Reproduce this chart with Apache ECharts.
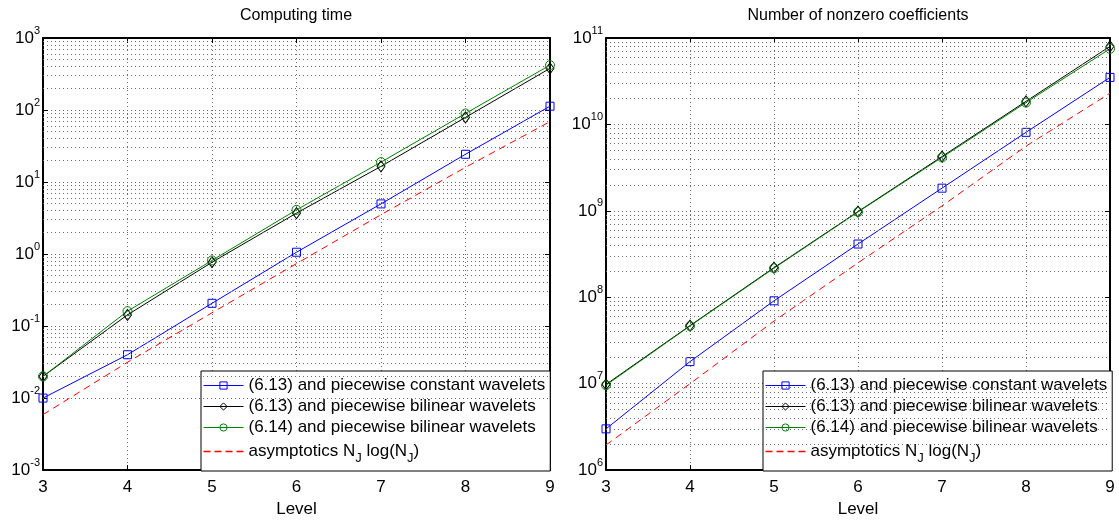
<!DOCTYPE html>
<html><head><meta charset="utf-8">
<script src="https://cdn.jsdelivr.net/npm/echarts@6/dist/echarts.min.js"></script>
<style>html,body{margin:0;padding:0;background:#fff}#c{width:1119px;height:523px}</style>
</head><body><div id="c"></div>
<script>
// ---- data ----
const levels = [3, 4, 5, 6, 7, 8, 9];
// Computing time
const timeConst613 = [0.010, 0.040, 0.207, 1.06, 4.97, 24.3, 113];
const timeBilin613 = [0.020, 0.143, 0.77, 3.7, 16.5, 79, 379];
const timeBilin614 = [0.020, 0.161, 0.816, 4.11, 18.9, 89.6, 420];
const timeAsym     = [0.0059, 0.0314, 0.153, 0.736, 3.52, 16.0, 69];
// Number of nonzero coefficients
const nnzConst613 = [3.0e6, 1.8e7, 9.1e7, 4.13e8, 1.83e9, 8.1e9, 3.5e10];
const nnzBilin613 = [9.8e6, 4.7e7, 2.2e8, 9.8e8, 4.25e9, 1.85e10, 8.0e10];
const nnzBilin614 = [9.6e6, 4.65e7, 2.17e8, 9.7e8, 4.15e9, 1.79e10, 7.5e10];
const nnzAsym     = [1.95e6, 1.0e7, 5.3e7, 2.5e8, 1.14e9, 5.6e9, 2.3e10];

const names = [
  '(6.13) and piecewise constant wavelets',
  '(6.13) and piecewise bilinear wavelets',
  '(6.14) and piecewise bilinear wavelets',
  'asymptotics N_J log(N_J)'
];
const titles = ['Computing time', 'Number of nonzero coefficients'];
const xLabel = 'Level';
const leftDecades = [-3, -2, -1, 0, 1, 2];
const rightDecades = [6, 7, 8, 9, 10];
const minorMult = [2, 3, 4, 5, 6, 7, 8, 9];

// ---- styling ----
const FONT = '"Liberation Sans", Arial, Helvetica, sans-serif';
const colors = ['#0000ff', '#000000', '#008000', '#ff0000'];
const gridLine = { color: '#6a6a6a', width: 1, type: [1, 3] };
const grids = [
  { left: 43, top: 38, width: 507, height: 441 },
  { left: 606, top: 38, width: 504, height: 441 }
];
const dashIcon = 'path://M0,0h7v1.3h-7zM11,0h7v1.3h-7zM22,0h7v1.3h-7zM33,0h7v1.3h-7z';

function pairs(ys) { return levels.map((x, i) => [x, ys[i]]); }
function minorVals(decades) {
  const out = [];
  decades.forEach(e => minorMult.forEach(m => out.push(m * Math.pow(10, e))));
  return out;
}
function expLabel(v) {
  const e = Math.round(Math.log10(v));
  return '{b|10}{s|' + e + '}';
}
const richLab = {
  b: { fontSize: 17, fontFamily: FONT, color: '#000', lineHeight: 26 },
  s: { fontSize: 11, fontFamily: FONT, color: '#000', lineHeight: 12, verticalAlign: 'top' }
};

function xAxes(gi) {
  return [
    { gridIndex: gi, type: 'value', min: 3, max: 9, interval: 1, position: 'bottom',
      axisLine: { onZero: false, lineStyle: { color: '#000', width: 2 } },
      axisTick: { inside: true, length: 5, lineStyle: { color: '#000' } },
      axisLabel: { fontSize: 17, fontFamily: FONT, color: '#000', margin: 9 },
      splitLine: { show: true, lineStyle: gridLine },
      name: xLabel, nameLocation: 'middle', nameGap: 25,
      nameTextStyle: { fontSize: 17, fontFamily: FONT, color: '#000' } },
    { gridIndex: gi, type: 'value', min: 3, max: 9, interval: 1, position: 'top',
      axisLine: { onZero: false, lineStyle: { color: '#000', width: 2 } },
      axisTick: { inside: true, length: 5, lineStyle: { color: '#000' } },
      axisLabel: { show: false }, splitLine: { show: false } }
  ];
}
function yAxes(gi, min, max) {
  return [
    { gridIndex: gi, type: 'log', logBase: 10, min: min, max: max, interval: 1, position: 'left',
      axisLine: { onZero: false, lineStyle: { color: '#000', width: 2 } },
      axisTick: { inside: true, length: 5, lineStyle: { color: '#000' } },
      axisLabel: { formatter: expLabel, rich: richLab, margin: 3 },
      splitLine: { show: true, lineStyle: gridLine } },
    { gridIndex: gi, type: 'log', logBase: 10, min: min, max: max, interval: 1, position: 'right',
      axisLine: { onZero: false, lineStyle: { color: '#000', width: 2 } },
      axisTick: { inside: true, length: 5, lineStyle: { color: '#000' } },
      axisLabel: { show: false }, splitLine: { show: false } }
  ];
}

function gridSeries(gi, c, b3, b4, a, decades) {
  const xi = gi * 2, yi = gi * 2;
  return [
    { type: 'line', xAxisIndex: xi, yAxisIndex: yi, data: [], silent: true, z: 1,
      markLine: { silent: true, symbol: ['none', 'none'], label: { show: false },
        lineStyle: gridLine, animation: false,
        data: minorVals(decades).map(v => ({ yAxis: v })) } },
    { name: names[0], type: 'line', xAxisIndex: xi, yAxisIndex: yi, data: pairs(c), z: 3,
      symbol: 'rect', symbolSize: 8,
      itemStyle: { color: 'transparent', borderColor: colors[0], borderWidth: 1 },
      lineStyle: { color: colors[0], width: 1 } },
    { name: names[1], type: 'line', xAxisIndex: xi, yAxisIndex: yi, data: pairs(b3), z: 3,
      symbol: 'diamond', symbolSize: [8, 11],
      itemStyle: { color: 'transparent', borderColor: colors[1], borderWidth: 1 },
      lineStyle: { color: colors[1], width: 1 } },
    { name: names[2], type: 'line', xAxisIndex: xi, yAxisIndex: yi, data: pairs(b4), z: 3,
      symbol: 'circle', symbolSize: 9,
      itemStyle: { color: 'transparent', borderColor: colors[2], borderWidth: 1 },
      lineStyle: { color: colors[2], width: 1 } },
    { name: names[3], type: 'line', xAxisIndex: xi, yAxisIndex: yi, data: pairs(a), z: 3,
      symbol: 'none',
      itemStyle: { color: colors[3] },
      lineStyle: { color: colors[3], width: 1, type: [7, 5] } }
  ];
}

function legendAt(left) {
  return {
    orient: 'vertical', left: left, top: 371,
    backgroundColor: '#fff', borderColor: '#000', borderWidth: 1,
    padding: [4, 5, 6, 2], itemWidth: 40, itemHeight: 9, itemGap: 0,
    selectedMode: false,
    lineStyle: { width: 1 },
    data: names.map((n, i) => i < 3
      ? { name: n, itemStyle: { color: 'transparent', borderColor: colors[i], borderWidth: 1 } }
      : { name: n, icon: dashIcon, itemStyle: { color: colors[i], borderWidth: 0 } }),
    formatter: n => n === names[3] ? 'asymptotics N{sub|J} log(N{sub|J})' : n,
    textStyle: { fontSize: 17, fontFamily: FONT, color: '#000', lineHeight: 21,
      rich: { sub: { fontSize: 13, fontFamily: FONT, color: '#000', lineHeight: 21, padding: [14, 0, 0, 0] } } }
  };
}

const option = {
  animation: false,
  backgroundColor: '#fff',
  grid: grids,
  xAxis: [...xAxes(0), ...xAxes(1)],
  yAxis: [...yAxes(0, 1e-3, 1e3), ...yAxes(1, 1e6, 1e11)],
  legend: [legendAt(201), legendAt(763)],
  graphic: [
    { type: 'text', x: 296, y: 16, style: { text: titles[0], align: 'center', verticalAlign: 'middle',
      fontSize: 16, fontFamily: FONT, fill: '#000' } },
    { type: 'text', x: 858, y: 16, style: { text: titles[1], align: 'center', verticalAlign: 'middle',
      fontSize: 16, fontFamily: FONT, fill: '#000' } }
  ],
  series: [
    ...gridSeries(0, timeConst613, timeBilin613, timeBilin614, timeAsym, leftDecades),
    ...gridSeries(1, nnzConst613, nnzBilin613, nnzBilin614, nnzAsym, rightDecades)
  ]
};
const chart = echarts.init(document.getElementById('c'), null, { renderer: 'canvas' });
chart.setOption(option);
</script></body></html>
